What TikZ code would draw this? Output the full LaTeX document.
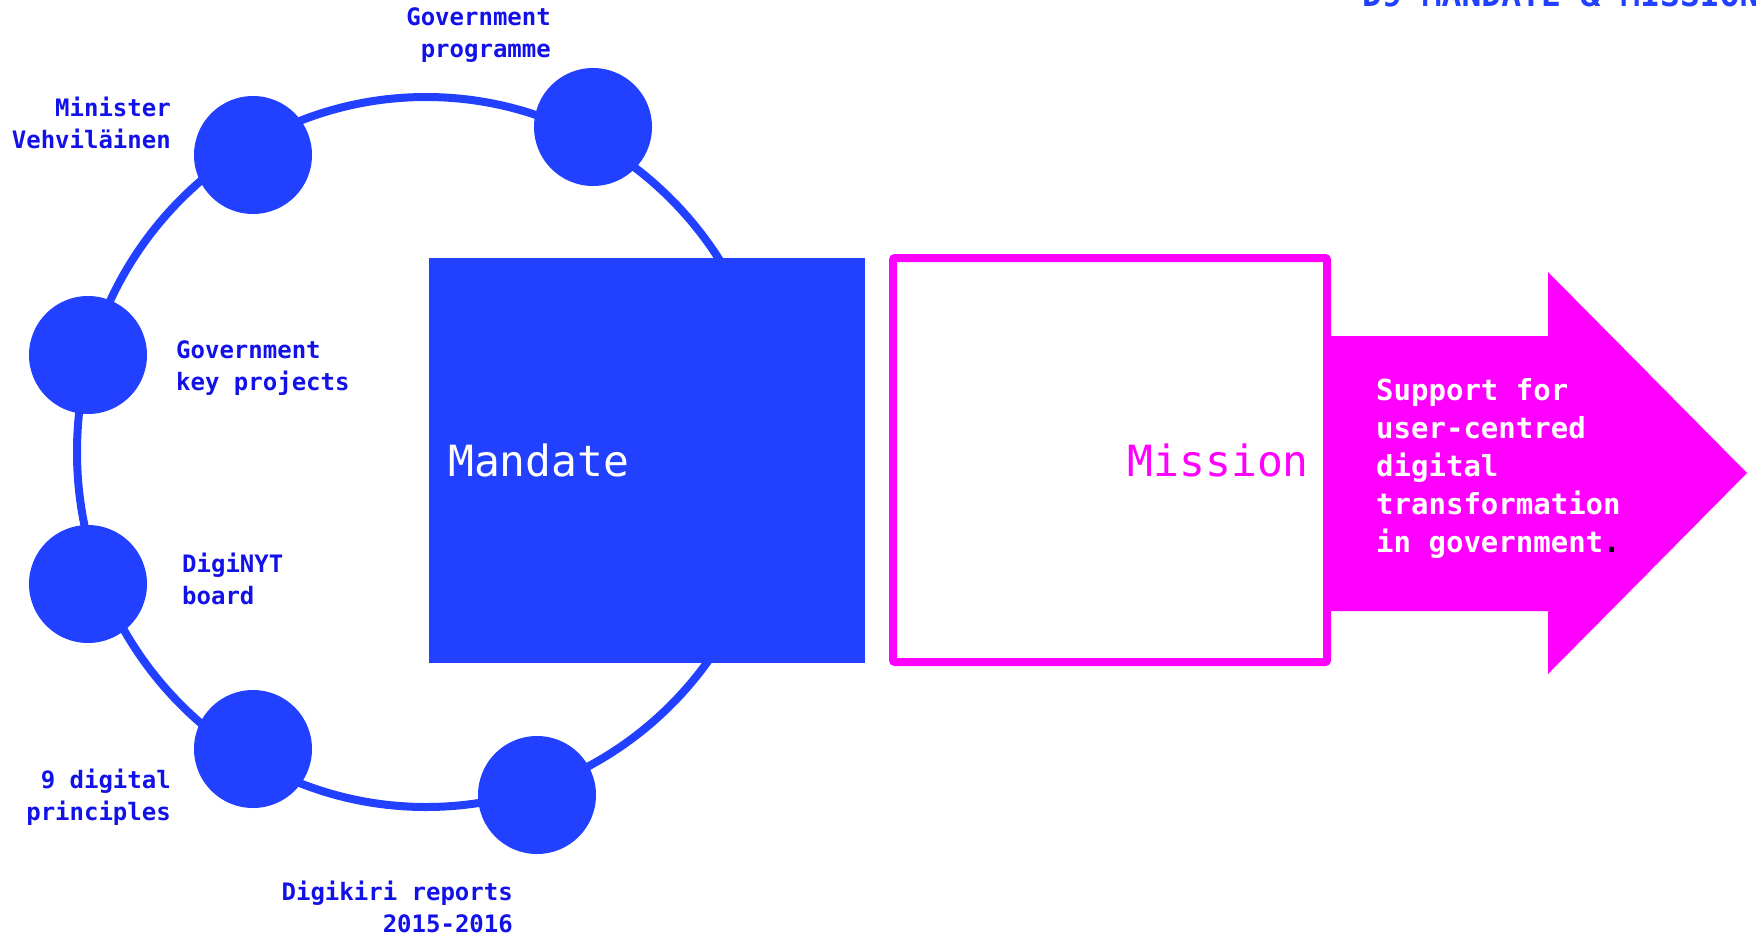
\documentclass[tikz,border=0pt]{standalone}
\usepackage{fontspec}
\usetikzlibrary{positioning}
\newfontfamily\dnmono{DejaVu Sans Mono}
\definecolor{DNblue}{RGB}{34,64,255}
\definecolor{DNlabel}{RGB}{18,18,232}
\definecolor{DNpink}{RGB}{255,0,255}
\tikzset{
  dot/.style={circle, fill=DNblue, inner sep=0pt, minimum size=118pt},
  lbl/.style={inner sep=0pt, text=DNlabel, font=\dnmono\bfseries\fontsize{24}{32}\selectfont},
}
\begin{document}
\begin{tikzpicture}[x=1pt, y=-1pt]
  \useasboundingbox (0,0) rectangle (1756,938);
  % ring of sources:
  \draw[DNblue, line width=8pt] (426,452) ellipse (349pt and 355pt);
  \node[dot] (minister) at (253,155) {};
  \node[dot] (progr) at (593,127) {};
  \node[dot] (keyproj) at (88,355) {};
  \node[dot] (diginyt) at (88,584) {};
  \node[dot] (princ) at (253,749) {};
  \node[dot] (digikiri) at (537,795) {};
  %
  % labels, placed at the baseline of their last line:
  \node[lbl, align=right, anchor=base east] (minister-lbl) at (171,148) {Minister\\Vehviläinen};
  \node[lbl, align=right, anchor=base east] (progr-lbl) at (551,57) {Government\\programme};
  \node[lbl, align=left, anchor=base west] (keyproj-lbl) at (176,390) {Government\\key projects};
  \node[lbl, align=left, anchor=base west] (diginyt-lbl) at (182,604) {DigiNYT\\board};
  \node[lbl, align=right, anchor=base east] (princ-lbl) at (171,820) {9 digital\\principles};
  \node[lbl, align=right, anchor=base east] (digikiri-lbl) at (513,932) {Digikiri reports\\2015-2016};
  %
  % mandate and mission:
  \node[rectangle, fill=DNblue, inner sep=0pt, outer sep=0pt, minimum width=436pt, minimum height=405pt] (mand) at (647,460.5) {};
  \node[inner sep=0pt, text=white, font=\dnmono\fontsize{43}{50}\selectfont, right=19pt of mand.west] (mand-txt) {Mandate};
  %
  \fill[DNpink] (1327,336) -- (1548,336) -- (1548,272) -- (1747,473) -- (1548,674) -- (1548,611) -- (1327,611) -- cycle;
  \node[rectangle, draw=DNpink, line width=8pt, rounded corners=2pt, inner sep=0pt, outer sep=0pt, minimum width=434pt, minimum height=404pt] (miss) at (1110,460) {};
  \node[inner sep=0pt, text=DNpink, font=\dnmono\fontsize{43}{50}\selectfont, left=18pt of miss.east] (miss-txt) {Mission};
  %
  \node[inner sep=0pt, text=white, align=left, anchor=base west, font=\dnmono\bfseries\fontsize{29}{37.8}\selectfont] (arr-txt) at (1376,552) {Support for\\user-centred\\digital\\transformation\\in government{\color{black}.}};
  %
  \node[inner sep=0pt, anchor=base west, text=DNblue, font=\dnmono\bfseries\fontsize{33}{40}\selectfont] (title) at (1362,6) {D9 MANDATE \& MISSION};
\end{tikzpicture}
\end{document}
